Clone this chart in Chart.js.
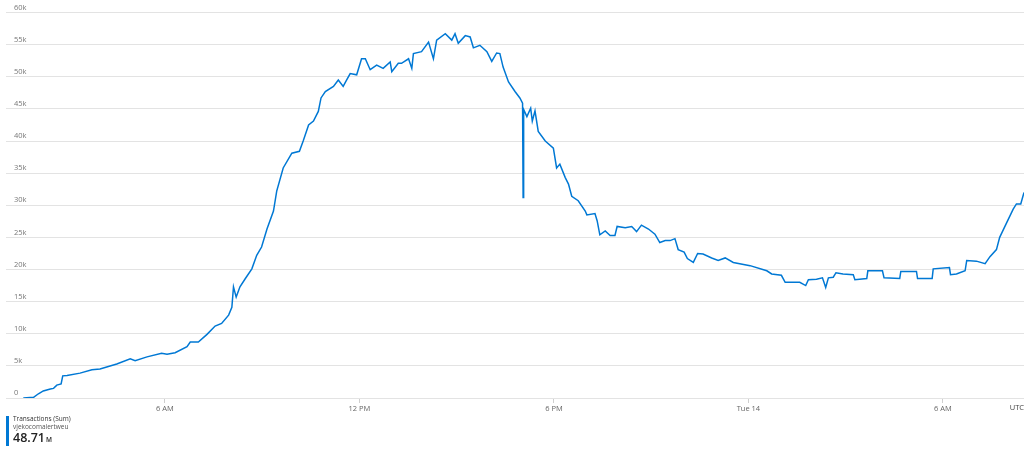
<!DOCTYPE html>
<html>
<head>
<meta charset="utf-8">
<script src="https://cdn.jsdelivr.net/npm/chart.js@4"></script>
<style>
  html, body { margin: 0; padding: 0; background: #fff; }
  #wrap { position: relative; width: 1024px; height: 450px; overflow: hidden; }
  #legend { position: absolute; left: 6px; top: 415px; font-family: "Open Sans", "Noto Sans", sans-serif; }
  #legend .bar { position: absolute; left: 0; top: 1px; width: 3px; height: 30px; background: #0078d4; }
  #legend .t1 { position: absolute; left: 7px; top: 0px; font-size: 6.5px; color: #333; white-space: nowrap; line-height: 8px; }
  #legend .t2 { position: absolute; left: 7px; top: 8px; font-size: 6.5px; color: #555; white-space: nowrap; line-height: 8px; }
  #legend .t3 { position: absolute; left: 7px; top: 15px; font-size: 12.5px; font-weight: 600; color: #222; white-space: nowrap; line-height: 16px; }
  #legend .t3 span { font-size: 6.5px; font-weight: 600; margin-left: 1px; }
</style>
</head>
<body>
<div id="wrap">
  <canvas id="c" width="1024" height="450"></canvas>
  <div id="legend">
    <div class="bar"></div>
    <div class="t1">Transactions (Sum)</div>
    <div class="t2">vjekocomalertweu</div>
    <div class="t3">48.71<span>M</span></div>
  </div>
</div>
<script>
// minutes since Mon 00:00 UTC
const times = [98,117,126,135,148,154,160,168,171,179,
  203,225,240,271,296,305,327,354,364,379,
  401,407,422,438,453,465,478,484,487,492,
  499,509,521,530,539,549,561,567,579,595,
  609,616,626,635,644,649,657,672,681,690,
  697,703,715,724,731,740,752,764,777,780,
  792,798,811,817,820,835,848,857,863,879,
  891,897,903,916,925,931,943,956,965,974,
  980,986,996,1008,1017,1022,1023,1024,1030,1037,
  1040,1045,1051,1064,1079,1085,1091,1101,1107,1113,
  1125,1138,1141,1156,1160,1165,1175,1184,1193,1197,
  1212,1224,1233,1242,1255,1267,1276,1286,1295,1304,
  1310,1321,1327,1338,1346,1356,1372,1384,1397,1412,
  1443,1474,1483,1501,1508,1520,1535,1546,1551,1566,
  1577,1583,1588,1597,1602,1615,1634,1637,1659,1661,
  1688,1691,1720,1722,1751,1753,1780,1782,1812,1814,
  1825,1841,1844,1862,1878,1887,1899,1905,1918,1930,
  1936,1944,1950];

const transactions = [0,100,660,1100,1400,1500,2000,2200,3450,3500,
  3870,4400,4500,5300,6100,5800,6400,6960,6800,7050,
  8000,8700,8700,9900,11200,11600,12900,14100,17300,15700,
  17300,18600,20100,22200,23500,26300,29100,32200,35800,38100,
  38400,40000,42500,43100,44600,46700,47700,48500,49500,48500,
  49600,50500,50300,52800,52800,51100,51800,51300,52300,50800,
  52100,52100,52800,51300,53600,53900,55400,52800,55700,56700,
  55700,56700,55200,56400,56200,54500,54900,53900,52400,53700,
  53600,51500,49200,47700,46700,45900,31200,44900,43800,45100,
  43100,44700,41500,40000,38900,35800,36400,34300,33300,31400,
  30700,29100,28500,28700,27600,25400,26000,25300,25300,26700,
  26500,26700,25900,26900,26300,25500,24200,24500,24500,24800,
  23100,22700,21700,21100,22500,22400,21800,21400,21800,21100,
  20600,19800,19300,19100,18000,18000,18000,17500,18400,18500,
  18700,17200,18700,18800,19500,19300,19200,18400,18600,19800,
  19800,18700,18600,19700,19700,18600,18600,20100,20300,19200,
  19300,19800,21400,21300,20900,22000,23100,25000,27300,29400,
  30200,30200,32000];

const xTickMinutes = [360, 720, 1080, 1440, 1800];
const xTickLabels = ['6 AM', '12 PM', '6 PM', 'Tue 14', '6 AM'];
const yTickValues = [0,5000,10000,15000,20000,25000,30000,35000,40000,45000,50000,55000,60000];
const yTickLabels = ['0','5k','10k','15k','20k','25k','30k','35k','40k','45k','50k','55k','60k'];
const timezoneLabel = 'UTC';

const tickFont = { family: '"Open Sans", "Noto Sans", sans-serif', size: 7.5 };

const utcPlugin = {
  id: 'utc',
  afterDraw(chart) {
    const { ctx, chartArea } = chart;
    ctx.save();
    ctx.font = '7.5px "Open Sans", "Noto Sans", sans-serif';
    ctx.fillStyle = '#444';
    ctx.textAlign = 'right';
    ctx.textBaseline = 'top';
    ctx.fillText(timezoneLabel, chartArea.right, chart.scales.x.top + 6);
    ctx.restore();
  }
};

new Chart(document.getElementById('c'), {
  type: 'line',
  data: {
    datasets: [{
      label: 'Transactions (Sum)',
      data: times.map((t, i) => ({ x: t, y: transactions[i] })),
      borderColor: '#0078d4',
      borderWidth: 1.5,
      pointRadius: 0,
      tension: 0,
      fill: false
    }]
  },
  options: {
    responsive: false,
    animation: false,
    devicePixelRatio: 1,
    layout: { padding: { left: 6, right: 0, top: 10, bottom: 32 } },
    plugins: { legend: { display: false }, tooltip: { enabled: false } },
    scales: {
      x: {
        type: 'linear',
        min: 66,
        max: 1950,
        afterFit(s) { s.height = 20; },
        afterBuildTicks(s) { s.ticks = xTickMinutes.map(v => ({ value: v })); },
        grid: { display: true, drawOnChartArea: false, drawTicks: true, tickLength: 5, color: '#cfcfcf' },
        border: { display: false },
        ticks: {
          font: tickFont,
          color: '#666',
          padding: 1,
          maxRotation: 0,
          autoSkip: false,
          callback: (v) => { const i = xTickMinutes.indexOf(v); return i >= 0 ? xTickLabels[i] : ''; }
        }
      },
      y: {
        min: 0,
        max: 60000,
        afterFit(s) { s.width = 0; },
        afterBuildTicks(s) { s.ticks = yTickValues.map(v => ({ value: v })); },
        grid: { color: '#e3e3e3', drawTicks: false, lineWidth: 1 },
        border: { display: false },
        ticks: {
          mirror: true,
          padding: 8,
          labelOffset: -5,
          font: tickFont,
          color: '#777',
          callback: (v) => { const i = yTickValues.indexOf(v); return i >= 0 ? yTickLabels[i] : ''; }
        }
      }
    }
  },
  plugins: [utcPlugin]
});
</script>
</body>
</html>
